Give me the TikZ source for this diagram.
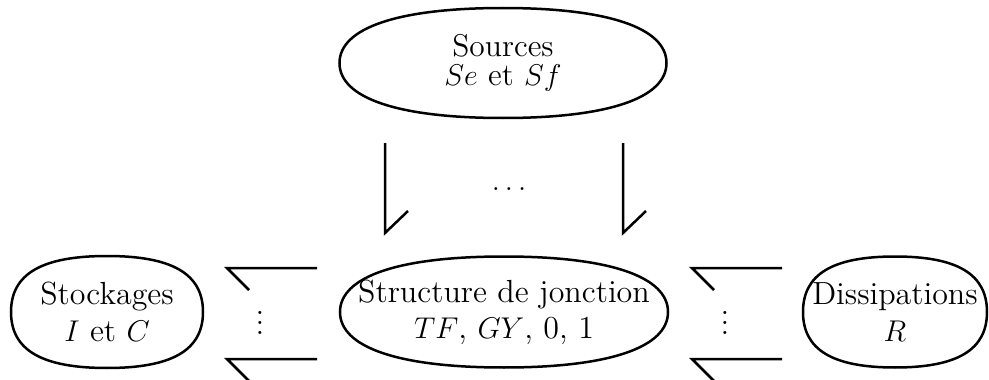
\documentclass[tikz,border=0pt]{standalone}
\usetikzlibrary{shapes.geometric}
\newcommand\shellpath[4]{%
  \draw[shell] (#1.center) ++(#2,0)
    .. controls +(0,-#4*#3) and +(#4*#2,0) .. ++(-#2,-#3)
    .. controls +(-#4*#2,0) and +(0,-#4*#3) .. ++(-#2,#3)
    .. controls +(0,#4*#3) and +(-#4*#2,0) .. ++(#2,#3)
    .. controls +(#4*#2,0) and +(0,#4*#3) .. ++(#2,-#3) -- cycle;}
\begin{document}
\begin{tikzpicture}[x=0.4pt,y=-0.4pt,
  shell/.style={draw, line width=1pt},
  txt/.style={align=center, inner sep=0pt, font=\fontsize{12.8}{14.5}\selectfont},
  bond/.style={line width=1pt, line join=miter}]
\useasboundingbox (0,0) rectangle (989,380);
% texts (nodes)
\node[txt, font=\fontsize{12.6}{11.5}\selectfont] (src) at (503,63) {Sources\\ $Se$ et $Sf$};
\node[txt] (jct) at (504,312) {Structure de jonction\\ $TF$, $GY$, 0, 1};
\node[txt] (sto) at (107,312) {Stockages\\ $I$ et $C$};
\node[txt] (dis) at (895,312) {Dissipations\\ $R$};
% shells
\shellpath{src}{163.5}{55}{0.64}
\shellpath{jct}{164}{55.5}{0.64}
\shellpath{sto}{96}{56}{0.68}
\shellpath{dis}{92}{55.5}{0.68}
% bond end points
\coordinate (v1a) at (385,143); \coordinate (v1b) at (385,233);
\coordinate (v2a) at (623,143); \coordinate (v2b) at (623,233);
\coordinate (l1a) at (317,268); \coordinate (l1b) at (227,268);
\coordinate (l2a) at (317,359); \coordinate (l2b) at (227,359);
\coordinate (r1a) at (782,268); \coordinate (r1b) at (692,268);
\coordinate (r2a) at (782,359); \coordinate (r2b) at (692,359);
% bonds (half arrows)
\draw[bond] (v1a) -- (v1b) -- ++(23,-22);
\draw[bond] (v2a) -- (v2b) -- ++(23,-22);
\draw[bond] (l1a) -- (l1b) -- ++(22,22);
\draw[bond] (l2a) -- (l2b) -- ++(22,22);
\draw[bond] (r1a) -- (r1b) -- ++(22,22);
\draw[bond] (r2a) -- (r2b) -- ++(22,22);
% dots
\node[txt, anchor=base] (dtop) at (509,191) {$\dots$};
\node[txt, anchor=base] (dl) at (260,334) {$\vdots$};
\node[txt, anchor=base] (dr) at (725,334) {$\vdots$};
\end{tikzpicture}
\end{document}
